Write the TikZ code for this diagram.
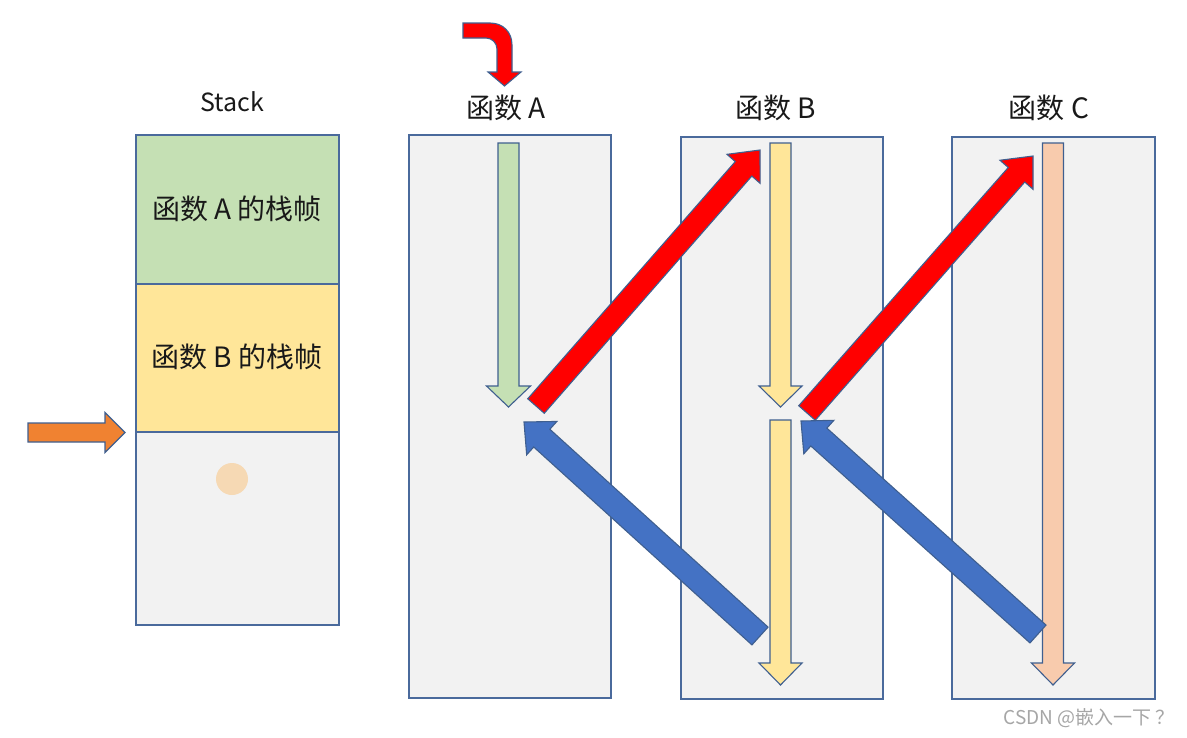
\documentclass[tikz,border=0pt]{standalone}
\usepackage{fontspec}
\setmainfont{Noto Sans CJK SC}
\usetikzlibrary{calc}
\definecolor{bordc}{HTML}{4A6A9C}
\definecolor{arrbord}{HTML}{3F5F8F}
\definecolor{boxgray}{HTML}{F2F2F2}
\definecolor{pgreen}{HTML}{C5E0B4}
\definecolor{pyellow}{HTML}{FFE699}
\definecolor{ppeach}{HTML}{F8CBAD}
\definecolor{pred}{HTML}{FF0000}
\definecolor{pblue}{HTML}{4472C4}
\definecolor{porange}{HTML}{F08231}
\definecolor{pcircle}{HTML}{F6D9B4}
\definecolor{wmark}{HTML}{A6A6A6}
\newcommand\bkarrow[6]{%
  \coordinate (bkh) at ($(#3)!#6!(#2)$);
  \draw[#1] ($(#2)!#4!90:(#3)$) -- ($(bkh)!#4!90:(#3)$) -- ($(bkh)!#5!90:(#3)$)
    -- (#3) -- ($(bkh)!#5!-90:(#3)$) -- ($(bkh)!#4!-90:(#3)$) -- ($(#2)!#4!-90:(#3)$) -- cycle;
}
\begin{document}
\begin{tikzpicture}[x=1pt,y=-1pt,
  fbox/.style={draw=bordc, line width=1.8pt, fill=boxgray, anchor=north west, inner sep=0pt, minimum width=202pt},
  sbox/.style={draw=bordc, line width=1.8pt, anchor=north west, inner sep=0pt, minimum width=203pt},
  lbl/.style={font=\fontsize{28pt}{32pt}\selectfont, text=black!90, inner sep=0pt},
  arr/.style={draw=arrbord, line width=1.1pt, line join=miter},
]
\useasboundingbox[fill=white] (0,0) rectangle (1187,737);

% Stack
\node[lbl, font=\fontsize{25pt}{30pt}\selectfont] (stk) at (232,102) {Stack};
\node[sbox, fill=pgreen, minimum height=149pt] (sa) at (135,134) {};
\node[sbox, fill=pyellow, minimum height=148pt] (sb) at (135,283) {};
\node[sbox, fill=boxgray, minimum height=193pt] (sc) at (135,431) {};
\node[lbl] (sal) at (237,209) {函数 A 的栈帧};
\node[lbl] (sbl) at (237,357) {函数 B 的栈帧};
\fill[pcircle] (232,479) circle (16);

% function boxes
\node[fbox, minimum height=563pt] (fa) at (408,134) {};
\node[fbox, minimum height=562pt] (fb) at (680,136) {};
\node[fbox, minimum height=562pt, minimum width=203pt] (fc) at (951,136) {};
\node[lbl] (fal) at (506,108) {函数 A};
\node[lbl] (fbl) at (776,108) {函数 B};
\node[lbl] (fcl) at (1049,108) {函数 C};

% orange arrow
\coordinate (oS) at (28,432.5);
\coordinate (oT) at (125,432.5);
\bkarrow{arr, fill=porange}{oS}{oT}{9.5pt}{20pt}{20pt}

% vertical arrows
\coordinate (gS) at (508.5,143);
\coordinate (gT) at (508.5,407);
\bkarrow{arr, fill=pgreen}{gS}{gT}{10.5pt}{22pt}{21pt}
\coordinate (y1S) at (780.5,143);
\coordinate (y1T) at (780.5,407);
\bkarrow{arr, fill=pyellow}{y1S}{y1T}{10.5pt}{21.5pt}{21pt}
\coordinate (y2S) at (780.5,420);
\coordinate (y2T) at (780.5,685);
\bkarrow{arr, fill=pyellow}{y2S}{y2T}{10.5pt}{21.5pt}{22pt}
\coordinate (pS) at (1053,143);
\coordinate (pT) at (1053,685);
\bkarrow{arr, fill=ppeach}{pS}{pT}{10.5pt}{21.5pt}{22pt}

% red diagonal arrows
\coordinate (r1S) at (536,406);
\coordinate (r1T) at (760,150);
\bkarrow{arr, fill=pred}{r1S}{r1T}{11pt}{22pt}{25pt}
\coordinate (r2S) at (807,413);
\coordinate (r2T) at (1033,156);
\bkarrow{arr, fill=pred}{r2S}{r2T}{11pt}{22pt}{25pt}

% blue diagonal arrows
\coordinate (b1S) at (760,636);
\coordinate (b1T) at (524,422);
\bkarrow{arr, fill=pblue}{b1S}{b1T}{12pt}{22.5pt}{24pt}
\coordinate (b2S) at (1038,634);
\coordinate (b2T) at (801,421);
\bkarrow{arr, fill=pblue}{b2S}{b2T}{12pt}{22.5pt}{24pt}

% bent red arrow
\draw[arr, fill=pred] (463,23) -- (490,23) .. controls (503,23) and (512,32) .. (512,45)
  -- (512,72) -- (521,72) -- (504.5,86) -- (488,72) -- (497,72) -- (497,49)
  .. controls (497,43) and (492,38) .. (486,38) -- (463,38) -- cycle;

% watermark
\node[font=\fontsize{19pt}{21pt}\selectfont, text=wmark, anchor=base east, inner sep=0pt] (wm) at (1175,724) {CSDN @嵌入一下 ？};
\end{tikzpicture}
\end{document}
